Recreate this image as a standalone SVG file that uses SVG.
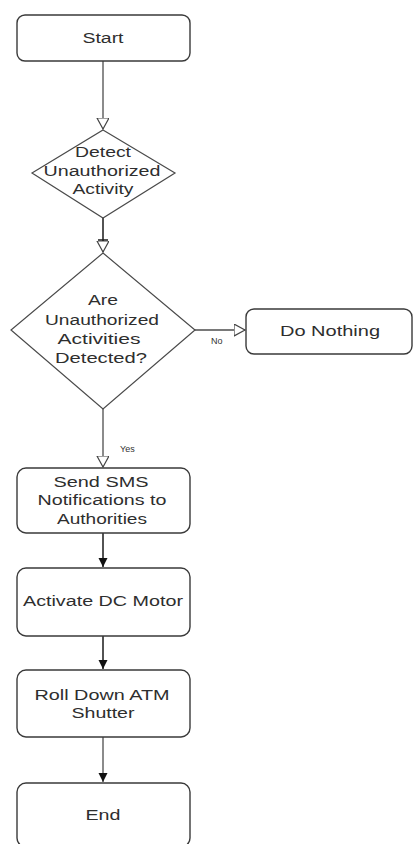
<svg xmlns="http://www.w3.org/2000/svg" width="413" height="844" viewBox="0 0 413 844">
  <style>
    .box { fill: #ffffff; stroke: #3a3a3a; stroke-width: 1.4; }
    .dec { fill: #ffffff; stroke: #4a4a4a; stroke-width: 1.2; }
    .lbl { font-family: "Liberation Sans", Arial, sans-serif; font-size: 14px; fill: #2e2e2e; text-anchor: middle; }
    .small { font-family: "Liberation Sans", Arial, sans-serif; font-size: 9px; fill: #333333; }
    .flow { fill: none; stroke: #4d4d4d; stroke-width: 1.3; }
    .flowdark { fill: none; stroke: #1a1a1a; stroke-width: 1.5; }
  </style>
  <defs>
    <marker id="hollow" markerUnits="userSpaceOnUse" markerWidth="13" markerHeight="14" refX="11" refY="6" orient="auto">
      <path d="M0,0 L11,6 L0,12 Z" fill="#ffffff" stroke="#444444" stroke-width="1.2"/>
    </marker>
    <marker id="solid" markerUnits="userSpaceOnUse" markerWidth="10" markerHeight="10" refX="9" refY="4.5" orient="auto">
      <path d="M0,0 L9,4.5 L0,9 Z" fill="#111111"/>
    </marker>
  </defs>

  <rect width="413" height="844" fill="#ffffff"/>

  <!-- connectors -->
  <g id="connectors">
    <line class="flow" x1="103" y1="61" x2="103" y2="129" marker-end="url(#hollow)"/>
    <line class="flowdark" x1="103" y1="218" x2="103" y2="252" marker-end="url(#hollow)"/>
    <line class="flowdark" x1="98" y1="240" x2="108" y2="240"/>
    <line class="flow" x1="195" y1="330" x2="245" y2="330" marker-end="url(#hollow)"/>
    <text class="small" x="211" y="344">No</text>
    <line class="flow" x1="103" y1="409" x2="103" y2="467" marker-end="url(#hollow)"/>
    <text class="small" x="120" y="452">Yes</text>
    <line class="flowdark" x1="103" y1="533" x2="103" y2="567" marker-end="url(#solid)"/>
    <line class="flowdark" x1="103" y1="636" x2="103" y2="669" marker-end="url(#solid)"/>
    <line class="flow" x1="103" y1="737" x2="103" y2="782" marker-end="url(#solid)"/>
  </g>

  <g id="start">
    <rect class="box" x="17" y="15" width="173" height="46" rx="8"/>
    <text class="lbl" x="103" y="43" textLength="41" lengthAdjust="spacingAndGlyphs">Start</text>
  </g>

  <g id="detect">
    <polygon class="dec" points="103,130 175,173 103,218 32,173"/>
    <text class="lbl" x="103" y="157" textLength="56" lengthAdjust="spacingAndGlyphs">Detect</text>
    <text class="lbl" x="102" y="176" textLength="117" lengthAdjust="spacingAndGlyphs">Unauthorized</text>
    <text class="lbl" x="103" y="194" textLength="61" lengthAdjust="spacingAndGlyphs">Activity</text>
  </g>

  <g id="check">
    <polygon class="dec" points="103,253 195,330 103,409 11,330"/>
    <text class="lbl" x="103" y="305" textLength="30" lengthAdjust="spacingAndGlyphs">Are</text>
    <text class="lbl" x="102" y="325" textLength="114" lengthAdjust="spacingAndGlyphs">Unauthorized</text>
    <text class="lbl" x="99" y="344" textLength="83" lengthAdjust="spacingAndGlyphs">Activities</text>
    <text class="lbl" x="101" y="363" textLength="92" lengthAdjust="spacingAndGlyphs">Detected?</text>
  </g>

  <g id="nothing">
    <rect class="box" x="246" y="309" width="166" height="45" rx="8"/>
    <text class="lbl" x="330" y="336" textLength="100" lengthAdjust="spacingAndGlyphs">Do Nothing</text>
  </g>

  <g id="sms">
    <rect class="box" x="17" y="468" width="173" height="65" rx="9"/>
    <text class="lbl" x="101" y="487" textLength="95" lengthAdjust="spacingAndGlyphs">Send SMS</text>
    <text class="lbl" x="102" y="505" textLength="129" lengthAdjust="spacingAndGlyphs">Notifications to</text>
    <text class="lbl" x="102" y="524" textLength="90" lengthAdjust="spacingAndGlyphs">Authorities</text>
  </g>

  <g id="motor">
    <rect class="box" x="17" y="568" width="173" height="68" rx="9"/>
    <text class="lbl" x="103" y="606" textLength="160" lengthAdjust="spacingAndGlyphs">Activate DC Motor</text>
  </g>

  <g id="shutter">
    <rect class="box" x="17" y="670" width="173" height="67" rx="9"/>
    <text class="lbl" x="102" y="700" textLength="135" lengthAdjust="spacingAndGlyphs">Roll Down ATM</text>
    <text class="lbl" x="103" y="718" textLength="63" lengthAdjust="spacingAndGlyphs">Shutter</text>
  </g>

  <g id="end">
    <rect class="box" x="17" y="783" width="173" height="64" rx="9"/>
    <text class="lbl" x="103" y="820" textLength="35" lengthAdjust="spacingAndGlyphs">End</text>
  </g>
</svg>
